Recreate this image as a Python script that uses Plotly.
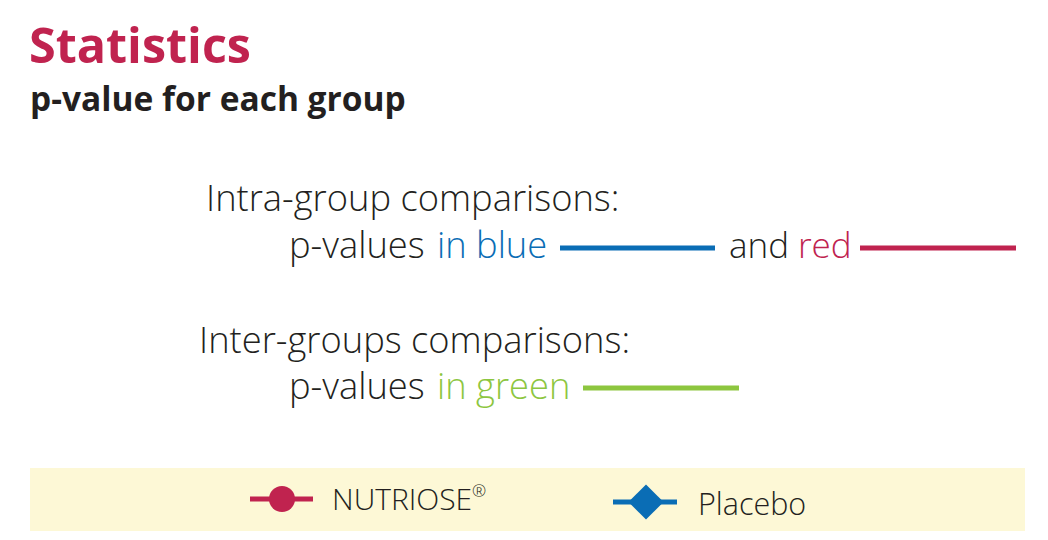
import plotly.graph_objects as go

# legend series
series_names = ["NUTRIOSE", "Placebo"]
series_colors = ["#C0234F", "#0A6DB5"]
series_symbols = ["circle", "diamond"]
series_sizes = [26, 27]

# comparison key colours
intra_colors = ["#0A6DB5", "#C0234F"]
inter_color = "#8DC63F"

RED = "#C0234F"
DARK = "#231F20"
FONT = "Open Sans, sans-serif"

fig = go.Figure()

# legend band glyphs
glyph_x = [(250, 282, 313), (613, 646, 677)]
glyph_y = [499, 502]
for name, col, sym, sz, (x0, xm, x1), gy in zip(series_names, series_colors, series_symbols,
                                                  series_sizes, glyph_x, glyph_y):
    fig.add_trace(go.Scatter(x=[x0, x1], y=[gy, gy], mode="lines",
                             line=dict(color=col, width=5), hoverinfo="skip", showlegend=False))
    fig.add_trace(go.Scatter(x=[xm], y=[gy], mode="markers", name=name,
                             marker=dict(symbol=sym, size=sz, color=col, line=dict(width=0)),
                             showlegend=False))

shapes = [
    dict(type="rect", xref="x", yref="y", x0=30, x1=1025, y0=468, y1=531,
         fillcolor="#FDF8D6", line=dict(width=0), layer="below"),
    dict(type="line", xref="x", yref="y", x0=560, x1=715, y0=248, y1=248,
         line=dict(color=intra_colors[0], width=5)),
    dict(type="line", xref="x", yref="y", x0=860, x1=1016, y0=248, y1=248,
         line=dict(color=intra_colors[1], width=5)),
    dict(type="line", xref="x", yref="y", x0=583, x1=739, y0=388, y1=388,
         line=dict(color=inter_color, width=5)),
]

def txt(x, y, text, size, color=DARK, weight=300):
    return dict(x=x, y=y, xref="x", yref="y", text=text, showarrow=False,
                xanchor="left", yanchor="middle",
                font=dict(size=size, color=color, family=FONT, weight=weight))

annotations = [
    txt(27, 44, "Statistics", 48.5, RED, 700),
    txt(28, 98, "p-value for each group", 33.5, DARK, 700),
    txt(204, 197, "Intra-group comparisons:", 36.3),
    txt(287, 244, "p-values", 36.3),
    txt(435, 244, "in blue", 36.3, intra_colors[0]),
    txt(727, 244, "and", 35),
    txt(796, 244, "red", 35, intra_colors[1]),
    txt(197, 339, "Inter-groups comparisons:", 36.3),
    txt(287, 385, "p-values", 36.3),
    txt(435, 385, "in green", 36.3, inter_color),
    txt(330, 498, series_names[0], 30),
    txt(470, 490, "®", 17),
    txt(696, 503, series_names[1], 30.5),
]

# the page body has an 8px margin, so the figure is drawn from (8, 8)
fig.update_layout(
    width=1040, height=532,
    margin=dict(l=0, r=0, t=0, b=0),
    paper_bgcolor="white", plot_bgcolor="white",
    xaxis=dict(range=[8, 1048], visible=False, fixedrange=True),
    yaxis=dict(range=[540, 8], visible=False, fixedrange=True),
    shapes=shapes,
    annotations=annotations,
    showlegend=False,
)

fig.write_html("out.html")
